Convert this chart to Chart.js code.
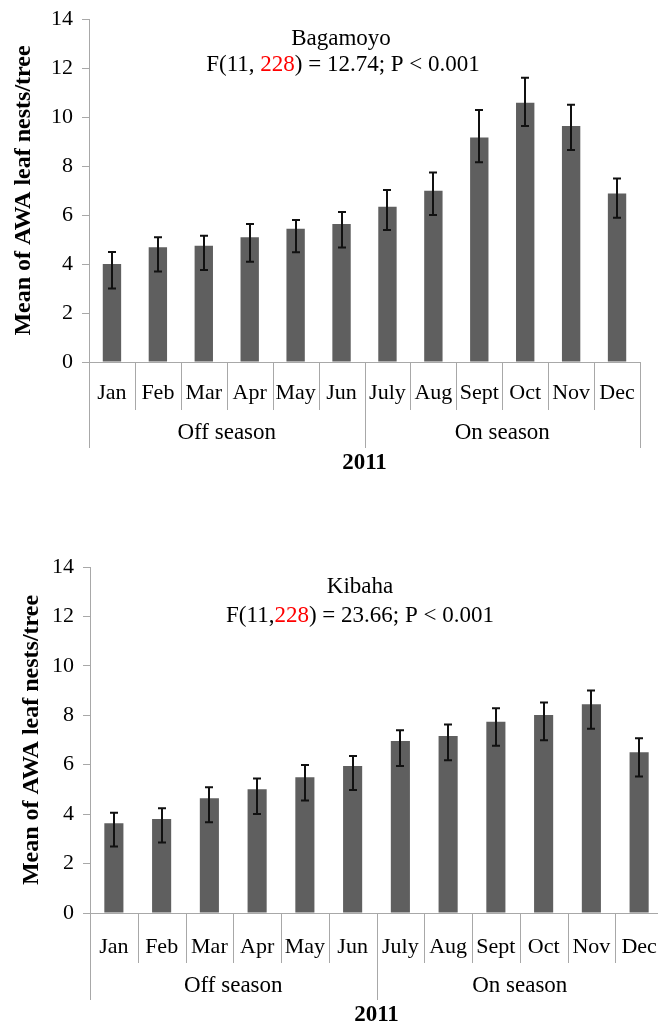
<!DOCTYPE html>
<html>
<head>
<meta charset="utf-8">
<script src="https://cdn.jsdelivr.net/npm/chart.js@4"></script>
<style>
  html, body { margin: 0; padding: 0; background: #fff; overflow: hidden; width: 658px; height: 1024px; }
  .box { position: absolute; left: 0; }
</style>
</head>
<body>
<div class="box" style="top:0;width:658px;height:520px"><canvas id="top"></canvas></div>
<div class="box" style="top:520px;width:680px;height:504px"><canvas id="bottom"></canvas></div>
<script>
  "use strict";
  const months = ["Jan", "Feb", "Mar", "Apr", "May", "Jun", "July", "Aug", "Sept", "Oct", "Nov", "Dec"];
  const seasons = ["Off season", "On season"];
  const yearLabel = "2011";
  const yTicks = [0, 2, 4, 6, 8, 10, 12, 14];

  const bagamoyoMean = [4.0, 4.68, 4.75, 5.09, 5.44, 5.63, 6.34, 6.99, 9.16, 10.58, 9.63, 6.88];
  const bagamoyoHigh = [4.49, 5.09, 5.15, 5.63, 5.80, 6.12, 7.02, 7.73, 10.29, 11.60, 10.50, 7.49];
  const bagamoyoLow = [3.00, 3.69, 3.76, 4.09, 4.48, 4.67, 5.39, 6.00, 8.15, 9.63, 8.65, 5.89];

  const kibahaMean = [3.63, 3.80, 4.64, 5.01, 5.49, 5.95, 6.96, 7.16, 7.74, 8.01, 8.45, 6.50];
  const kibahaHigh = [4.06, 4.24, 5.09, 5.44, 5.99, 6.35, 7.39, 7.63, 8.28, 8.52, 9.00, 7.07];
  const kibahaLow = [2.69, 2.85, 3.67, 4.01, 4.55, 4.98, 5.95, 6.18, 6.77, 6.99, 7.46, 5.52];

  const SERIF = "'Liberation Serif', 'Times New Roman', serif";
  const AXIS = "#a8a8a8";

  // draws error bars, header text and the grouped category axis
  const extras = {
    id: "extras",
    afterDatasetsDraw(chart) {
      const o = chart.options.plugins.extras;
      const { ctx, chartArea: a } = chart;
      const x = chart.scales.x, y = chart.scales.y;
      ctx.save();

      ctx.strokeStyle = "#111";
      ctx.lineWidth = 2;
      o.high.forEach((hi, i) => {
        const cx = Math.round(x.getPixelForValue(i));
        const yh = y.getPixelForValue(hi), yl = y.getPixelForValue(o.low[i]);
        ctx.beginPath();
        ctx.moveTo(cx, yh); ctx.lineTo(cx, yl);
        ctx.moveTo(cx - 4, yh); ctx.lineTo(cx + 4, yh);
        ctx.moveTo(cx - 4, yl); ctx.lineTo(cx + 4, yl);
        ctx.stroke();
      });

      // header lines, pieces may have their own colour
      ctx.font = "23px " + SERIF;
      ctx.textBaseline = "middle";
      ctx.textAlign = "left";
      o.header.forEach((line) => {
        const w = line.parts.reduce((s, p) => s + ctx.measureText(p[0]).width, 0);
        let px = line.x - w / 2;
        line.parts.forEach(([t, c]) => {
          ctx.fillStyle = c || "#000";
          ctx.fillText(t, px, line.y);
          px += ctx.measureText(t).width;
        });
      });

      // category separators
      const step = (a.right - a.left) / months.length;
      ctx.strokeStyle = AXIS;
      ctx.lineWidth = 1;
      for (let i = 0; i <= months.length; i++) {
        const sx = Math.round(a.left + i * step) + 0.5;
        const long = i % 6 === 0;
        ctx.beginPath();
        ctx.moveTo(sx, a.bottom);
        ctx.lineTo(sx, a.bottom + (long ? o.longSep : o.shortSep));
        ctx.stroke();
      }

      ctx.fillStyle = "#000";
      ctx.textAlign = "center";
      seasons.forEach((s, k) => {
        ctx.fillText(s, a.left + (k * 6 + 3) * step, a.bottom + o.seasonY);
      });
      ctx.font = "bold 23px " + SERIF;
      ctx.fillText(yearLabel, (a.left + a.right) / 2, a.bottom + o.yearY);
      ctx.restore();
    }
  };

  function makeChart(id, mean, high, low, opt) {
    return new Chart(document.getElementById(id), {
      type: "bar",
      data: {
        labels: months,
        datasets: [{ data: mean, backgroundColor: "#5f5f5f", barPercentage: 0.4, categoryPercentage: 1.0 }]
      },
      options: {
        responsive: true,
        maintainAspectRatio: false,
        animation: false,
        layout: { padding: opt.padding },
        plugins: {
          legend: { display: false },
          tooltip: { enabled: false },
          extras: { high, low, header: opt.header, shortSep: opt.shortSep, longSep: opt.longSep, seasonY: opt.seasonY, yearY: opt.yearY }
        },
        scales: {
          x: {
            grid: { display: false },
            border: { display: true, color: AXIS, width: 1 },
            ticks: { color: "#000", font: { family: SERIF, size: 22 }, padding: opt.tickPad, maxRotation: 0, autoSkip: false },
            afterFit: (s) => { s.height = opt.xHeight; s.paddingLeft = 0; s.paddingRight = 0; }
          },
          y: {
            min: 0, max: 14,
            afterBuildTicks: (s) => { s.ticks = yTicks.map((v) => ({ value: v })); },
            grid: { drawOnChartArea: false, drawTicks: true, tickLength: 7, color: AXIS },
            border: { display: true, color: AXIS, width: 1 },
            ticks: { color: "#000", font: { family: SERIF, size: 22 }, padding: 9 },
            title: { display: true, text: "Mean of AWA leaf nests/tree", color: "#000", font: { family: SERIF, size: 24, weight: "bold" }, padding: 0 },
            afterFit: (s) => { s.width = opt.yWidth; s.paddingTop = 0; s.paddingBottom = 0; }
          }
        }
      },
      plugins: [extras]
    });
  }

  makeChart("top", bagamoyoMean, bagamoyoHigh, bagamoyoLow, {
    padding: { left: 9, right: 18, top: 19, bottom: 0 },
    xHeight: 158, yWidth: 80, tickPad: 10,
    shortSep: 48, longSep: 86, seasonY: 71, yearY: 101,
    header: [
      { x: 341, y: 39, parts: [["Bagamoyo"]] },
      { x: 343, y: 65, parts: [["F(11, "], ["228", "#ff0000"], [") = 12.74; P < 0.001"]] }
    ]
  });

  makeChart("bottom", kibahaMean, kibahaHigh, kibahaLow, {
    padding: { left: 17, right: 17, top: 47, bottom: 0 },
    xHeight: 111, yWidth: 73, tickPad: 13,
    shortSep: 50, longSep: 87, seasonY: 73, yearY: 102,
    header: [
      { x: 360, y: 67, parts: [["Kibaha"]] },
      { x: 360, y: 96, parts: [["F(11,"], ["228", "#ff0000"], [") = 23.66; P < 0.001"]] }
    ]
  });
</script>
</body>
</html>
